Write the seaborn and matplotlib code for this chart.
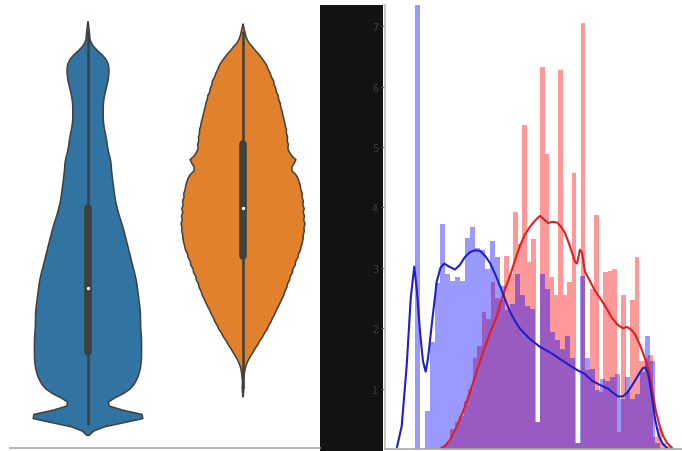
import numpy as np
import pandas as pd
import matplotlib
matplotlib.use("Agg")
import matplotlib.pyplot as plt
from matplotlib.patches import Rectangle
import seaborn as sns

# ---------------- violin panel data (score -> number of observations) ----------------
blue_values = [6, 8, 10, 12, 14, 16, 18, 20, 22, 24, 26, 28, 30, 32, 34, 36, 38, 40,
               42, 44, 46, 48, 50, 52, 54, 56, 58, 60, 62, 64, 66, 68, 70, 72, 74, 76,
               78, 80, 82, 84, 86, 88, 90, 92, 94, 96, 98, 100, 102, 104]
blue_counts = [15, 88, 10, 19, 40, 46, 50, 52, 53, 53, 53, 53, 52, 52, 52, 51, 50, 49,
               48, 46, 44, 42, 40, 38, 36, 34, 31, 29, 27, 26, 25, 24, 23, 23, 20, 19,
               18, 16, 15, 15, 15, 16, 18, 20, 21, 21, 17, 6, 1, 2]

orange_values = [15, 18, 20, 22, 24, 26, 28, 30, 32, 34, 36, 38, 40, 42, 44, 46, 48, 50,
                 52, 54, 56, 58, 60, 62, 64, 66, 68, 70, 72, 74, 76, 78, 80, 82, 84, 86,
                 88, 90, 92, 94, 96, 98, 100, 102, 104]
orange_counts = [1, 1, 2, 5, 10, 15, 20, 25, 29, 33, 37, 41, 44, 47, 50, 53, 56, 59,
                 61, 62, 63, 62, 62, 61, 60, 58, 56, 47, 56, 46, 46, 45, 44, 42, 40, 38,
                 36, 33, 31, 27, 24, 18, 11, 4, 2]

groups = ["A", "B"]

# ---------------- histogram panel data ----------------
blue_bin_start, blue_bin_width = 6.0, 1.0
blue_heights = [8.2, 0.0, 0.63, 1.77, 2.75, 3.72, 2.9, 2.78, 2.85, 2.78,
                3.5, 3.68, 3.32, 3.3, 2.98, 3.45, 3.18, 2.7, 2.3, 2.4,
                2.9, 2.55, 2.37, 2.32, 0.45, 2.9, 2.65, 1.94, 1.8, 1.66,
                1.87, 1.5, 0.1, 2.87, 1.5, 1.33, 0.97, 1.16, 1.13, 1.2,
                1.24, 0.83, 1.19, 0.83, 0.91, 1.28, 1.87, 1.46, 0.1, 0.0]

red_bin_start, red_bin_width = 11.2, 0.9
red_heights = [0.05, 0.1, 0.33, 0.44, 0.55, 0.8, 1.0, 1.5, 1.7, 2.27,
               2.15, 2.77, 2.5, 2.46, 3.2, 2.9, 3.93, 3.4, 5.36, 3.1,
               3.48, 0.45, 6.33, 4.89, 2.85, 2.55, 6.27, 2.55, 2.77, 4.57,
               0.1, 7.05, 1.3, 2.65, 3.87, 0.94, 2.93, 2.95, 2.98, 0.28,
               2.55, 0.94, 2.46, 3.18, 1.46, 1.5, 1.55, 0.2, 0.35, 0.1, 0.05]

# smoothed density curves
blue_kde_x = [2.4, 3.34, 4.34, 5.14, 5.86, 6.4, 7.0, 7.6, 8.14, 8.6, 9.34, 10.34, 11.1,
              11.86, 12.8, 14.0, 15.0, 16.0, 17.0, 18.0, 19.0, 20.0, 21.0, 22.0, 23.0,
              24.0, 25.0, 26.0, 27.0, 29.0, 31.0, 33.0, 35.0, 37.0, 38.6, 40.0, 41.4,
              43.0, 44.6, 45.6, 46.6, 47.6, 48.6, 49.4, 50.2, 51.0, 51.6, 52.1, 52.6,
              53.0, 53.6, 54.0, 54.6, 55.0, 55.6, 56.4]
blue_kde_y = [0.03, 0.38, 1.38, 2.49, 3.02, 2.6, 1.94, 1.45, 1.28, 1.5, 2.05, 2.77, 3.0,
              3.07, 3.02, 2.97, 3.05, 3.18, 3.26, 3.29, 3.28, 3.2, 3.08, 2.9, 2.7,
              2.48, 2.27, 2.12, 1.99, 1.82, 1.69, 1.6, 1.49, 1.38, 1.3, 1.24, 1.13,
              1.06, 1.0, 0.93, 0.87, 0.87, 0.95, 1.05, 1.16, 1.27, 1.34, 1.35, 1.25,
              1.07, 0.75, 0.5, 0.27, 0.17, 0.08, 0.02]

red_kde_x = [11.0, 12.0, 13.0, 14.4, 15.6, 17.0, 18.2, 19.6, 21.0, 22.4, 23.6, 25.0,
             26.0, 27.0, 28.0, 29.0, 30.0, 31.0, 31.8, 32.6, 33.4, 34.4, 35.2, 36.0,
             36.8, 37.4, 38.0, 38.4, 39.0, 39.4, 40.0, 41.0, 42.0, 43.0, 44.0, 45.4,
             46.6, 47.6, 48.4, 49.2, 50.0, 51.0, 52.0, 52.8, 53.6, 54.2, 54.8, 55.6,
             56.4, 57.4]
red_kde_y = [0.0, 0.05, 0.15, 0.38, 0.62, 0.94, 1.25, 1.6, 1.92, 2.2, 2.55, 2.87,
             3.12, 3.37, 3.55, 3.68, 3.78, 3.86, 3.8, 3.74, 3.76, 3.75, 3.68, 3.58,
             3.4, 3.25, 3.1, 3.07, 3.3, 3.25, 2.93, 2.78, 2.62, 2.5, 2.37, 2.17,
             2.05, 2.0, 2.02, 1.98, 1.9, 1.72, 1.5, 1.3, 0.9, 0.62, 0.42, 0.22,
             0.1, 0.02]

y_ticks = [1, 2, 3, 4, 5, 6, 7]

# ---------------- figure ----------------
sns.set_theme(style="white")
W, H = 682, 452
fig = plt.figure(figsize=(W / 100, H / 100), dpi=100)
fig.patch.set_facecolor("white")

# dark band between the two panels
fig.add_artist(Rectangle((320 / W, 0), 63 / W, 446 / H, transform=fig.transFigure,
                         facecolor="#121212", edgecolor="none", zorder=-1))

# ---- left: violins ----
ax1 = fig.add_axes([10 / W, 3 / H, 310 / W, 446 / H])
scores = np.concatenate([np.repeat(blue_values, blue_counts),
                         np.repeat(orange_values, orange_counts)]).astype(float)
labels = [groups[0]] * int(np.sum(blue_counts)) + [groups[1]] * int(np.sum(orange_counts))
df = pd.DataFrame({"group": labels, "score": scores})

sns.violinplot(data=df, x="group", y="score", hue="group",
               palette=["#1f77b4", "#ff7f0e"], bw_method=0.055, cut=2,
               common_norm=True, linewidth=1.1, legend=False,
               inner_kws=dict(marker="o", box_width=5.5), ax=ax1)
# small white median dots
for line in ax1.lines:
    if line.get_marker() == "o":
        line.set_markersize(2.4)
        line.set_markeredgewidth(0)
        line.set_markerfacecolor("white")

ax1.set_xlim(-0.5, 1.5)
ax1.set_ylim(0, 111.5)
ax1.set_xticks([])
ax1.set_yticks([])
ax1.set_xlabel("")
ax1.set_ylabel("")
for side in ["top", "right", "left"]:
    ax1.spines[side].set_visible(False)
ax1.spines["bottom"].set_color("#a8a8a8")
ax1.spines["bottom"].set_linewidth(1.2)

# ---- right: overlaid histograms with density curves ----
ax2 = fig.add_axes([385 / W, 2 / H, 297 / W, 444 / H])

red_edges = red_bin_start + red_bin_width * np.arange(len(red_heights) + 1)
blue_edges = blue_bin_start + blue_bin_width * np.arange(len(blue_heights) + 1)
red_df = pd.DataFrame({"x": red_edges[:-1] + red_bin_width / 2, "h": red_heights})
blue_df = pd.DataFrame({"x": blue_edges[:-1] + blue_bin_width / 2, "h": blue_heights})

sns.histplot(data=red_df, x="x", weights="h", bins=list(red_edges),
             color="#ff0000", alpha=0.4, linewidth=0, ax=ax2)
sns.histplot(data=blue_df, x="x", weights="h", bins=list(blue_edges),
             color="#0000ff", alpha=0.4, linewidth=0, ax=ax2)
sns.lineplot(x=red_kde_x, y=red_kde_y, color="#dd1f1f", linewidth=1.5, ax=ax2)
sns.lineplot(x=blue_kde_x, y=blue_kde_y, color="#1f1fc8", linewidth=1.5, ax=ax2)

ax2.set_xlim(0, 59.4)
ax2.set_ylim(0, 7.35)
ax2.set_xticks([])
ax2.set_yticks(y_ticks)
ax2.set_yticklabels([str(t) for t in y_ticks])
ax2.tick_params(axis="y", left=True, length=3, width=0.8, color="#5a5a5a",
                labelsize=7, labelcolor="#3c3c3c", pad=2)
ax2.set_xlabel("")
ax2.set_ylabel("")
for side in ["top", "right"]:
    ax2.spines[side].set_visible(False)
ax2.spines["left"].set_color("#bdbdbd")
ax2.spines["bottom"].set_color("#a8a8a8")
ax2.spines["bottom"].set_linewidth(1.2)

fig.savefig("out.png", dpi=100)
